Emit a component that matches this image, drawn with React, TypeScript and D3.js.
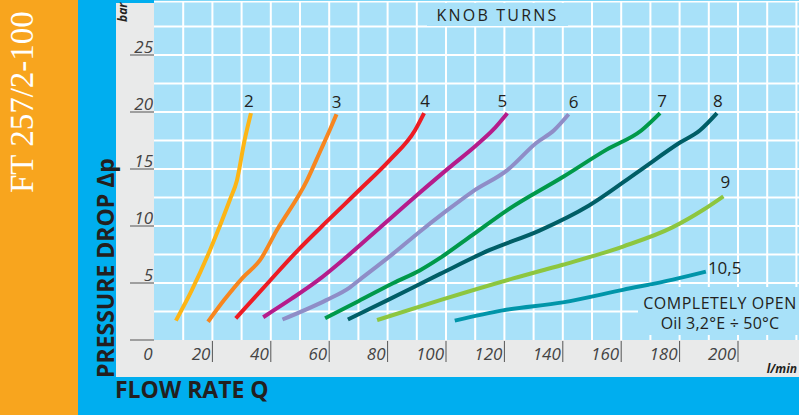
import React from "react";
import * as d3 from "d3";

// ---- Data ----
const seriesNames = ["2", "3", "4", "5", "6", "7", "8", "9", "10,5"];

const q2 = [7.5, 13, 19.2, 26, 28.4, 31, 33.2];
const p2 = [1.7, 4.4, 7.9, 12.3, 14.0, 17.5, 19.9];

const q3 = [18.5, 24, 30.5, 36.3, 42, 52.4, 57, 60.5, 62.5];
const p3 = [1.6, 3.5, 5.5, 7.0, 9.6, 14.0, 16.6, 18.6, 19.8];

const q4 = [28, 39.7, 49, 59.2, 70.5, 80.8, 89.4, 92.5];
const p4 = [1.9, 5.2, 7.8, 10.4, 13.2, 15.8, 18.4, 19.9];

const q5 = [37.4, 47, 56, 66, 78, 90, 101, 110, 116, 121];
const p5 = [2.0, 3.6, 5.2, 7.3, 10.0, 12.7, 15.1, 17.0, 18.4, 19.9];

const q6 = [44, 59, 67, 70.5, 82, 91, 100, 109, 121, 131, 137, 142];
const p6 = [1.8, 3.5, 4.6, 5.3, 7.6, 9.5, 11.3, 13.0, 14.9, 17.3, 18.4, 19.8];

const q7 = [58.6, 70, 82, 91, 98, 109, 121, 140, 155, 167, 173.3];
const p7 = [1.9, 3.4, 5.0, 6.1, 7.2, 9.2, 11.4, 14.3, 16.7, 18.4, 19.9];

const q8 = [66.4, 80, 98, 115, 132, 149, 166, 180, 187, 192.8];
const p8 = [1.8, 3.5, 5.8, 7.9, 9.6, 11.8, 14.8, 17.3, 18.4, 19.9];

const q9 = [76.4, 98, 123, 140, 160.6, 177.7, 188, 195];
const p9 = [1.75, 3.5, 5.4, 6.6, 8.2, 9.9, 11.4, 12.6];

const q105 = [103, 119.5, 140, 160.6, 177.7, 189];
const p105 = [1.7, 2.6, 3.3, 4.4, 5.3, 6.0];

const seriesQ = [q2, q3, q4, q5, q6, q7, q8, q9, q105];
const seriesP = [p2, p3, p4, p5, p6, p7, p8, p9, p105];

const xTicks = [20, 40, 60, 80, 100, 120, 140, 160, 180, 200];
const yTicks = [5, 10, 15, 20, 25];

// ---- Styles ----
const colors = ["#FDB515", "#F7861F", "#ED1C24", "#B51C8C", "#8F8DC7", "#00994A", "#005E66", "#8DC63F", "#0095A9"];
const labelOffsets = [
  { dx: -2, dy: -6, anchor: "middle" },
  { dx: 0, dy: -6, anchor: "middle" },
  { dx: 1, dy: -6, anchor: "middle" },
  { dx: -5, dy: -6, anchor: "middle" },
  { dx: 5, dy: -6, anchor: "middle" },
  { dx: 2, dy: -6, anchor: "middle" },
  { dx: 1, dy: -6, anchor: "middle" },
  { dx: 2, dy: -8, anchor: "middle" },
  { dx: 2, dy: 2, anchor: "start" },
];

const SANS = "'Open Sans', 'Noto Sans', sans-serif";
const ORANGE = "#F8A51E";
const CYAN = "#00AEEF";
const PLOT = "#A8E1F9";
const GRAY = "#E9EAEA";
const TEXT = "#231F20";

export default function App() {
  const W = 799;
  const H = 415;
  const x = d3.scaleLinear().domain([0, 200]).range([154, 738]);
  const y = d3.scaleLinear().domain([0, 25]).range([340, 55]);
  const xMax = x.invert(W);
  const yMax = y.invert(2);

  const line = d3
    .line<[number, number]>()
    .x((d) => x(d[0]))
    .y((d) => y(d[1]))
    .curve(d3.curveMonotoneX);

  const gridX = d3.range(10, xMax, 10);
  const gridY = d3.range(2.5, yMax, 2.5);

  return (
    <svg
      width={W}
      height={H}
      style={{ position: "absolute", left: 0, top: 0, display: "block" }}
    >
      <rect x={0} y={0} width={W} height={H} fill="#ffffff" />
      <rect x={0} y={0} width={78} height={H} fill={ORANGE} />
      <rect x={78} y={0} width={W - 78} height={H} fill={CYAN} />
      <rect x={116} y={3} width={W - 116} height={374} fill={GRAY} />
      <rect x={x(0)} y={y(yMax)} width={W - x(0)} height={y(0) - y(yMax)} fill={PLOT} />

      {/* grid */}
      {gridX.map((v) => (
        <line key={"gx" + v} x1={x(v)} x2={x(v)} y1={y(0)} y2={y(yMax)} stroke="#ffffff" strokeWidth={2} />
      ))}
      {gridY.map((v) => (
        <line key={"gy" + v} x1={x(0)} x2={W} y1={y(v)} y2={y(v)} stroke="#ffffff" strokeWidth={2} />
      ))}
      <line x1={x(0)} x2={W} y1={1.5} y2={1.5} stroke="#ffffff" strokeWidth={2} />

      {/* KNOB TURNS box */}
      <rect x={427} y={3} width={141} height={23} fill={PLOT} />
      <text x={497.5} y={21} textAnchor="middle" fontFamily={SANS} fontSize={16} letterSpacing={2.2} fill={TEXT}>
        KNOB TURNS
      </text>

      {/* COMPLETELY OPEN box */}
      <rect x={638} y={287} width={W - 638} height={48} fill={PLOT} />
      <text x={720} y={309} textAnchor="middle" fontFamily={SANS} fontSize={16} fill={TEXT} letterSpacing={0.5}>
        COMPLETELY OPEN
      </text>
      <text x={720} y={328.5} textAnchor="middle" fontFamily={SANS} fontSize={16} fill={TEXT} letterSpacing={0.2}>
        Oil 3,2°E ÷ 50°C
      </text>

      {/* curves */}
      {seriesQ.map((qs, i) => {
        const pts = qs.map((q, j) => [q, seriesP[i][j]] as [number, number]);
        return (
          <path
            key={"c" + i}
            d={line(pts) || ""}
            fill="none"
            stroke={colors[i]}
            strokeWidth={4}
            strokeLinecap="butt"
            strokeLinejoin="round"
          />
        );
      })}
      {seriesQ.map((qs, i) => {
        const n = qs.length - 1;
        const o = labelOffsets[i];
        return (
          <text
            key={"l" + i}
            x={x(qs[n]) + o.dx}
            y={y(seriesP[i][n]) + o.dy}
            textAnchor={o.anchor as any}
            fontFamily={SANS}
            fontSize={17}
            fill={TEXT}
          >
            {seriesNames[i]}
          </text>
        );
      })}

      {/* y axis ticks */}
      {[0, ...yTicks].map((v) => (
        <line key={"yt" + v} x1={130} x2={x(0)} y1={y(v)} y2={y(v)} stroke="#555" strokeWidth={1} />
      ))}
      {yTicks.map((v) => (
        <text
          key={"yl" + v}
          x={153}
          y={y(v) - 2}
          textAnchor="end"
          fontFamily={SANS}
          fontStyle="italic"
          fontSize={17}
          fill="#444"
        >
          {v}
        </text>
      ))}
      <text x={148} y={360} textAnchor="middle" fontFamily={SANS} fontStyle="italic" fontSize={17} fill="#444">
        0
      </text>

      {/* x axis ticks */}
      {xTicks.map((v) => (
        <g key={"xt" + v}>
          <line x1={x(v)} x2={x(v)} y1={341} y2={362} stroke="#555" strokeWidth={1} />
          <text
            x={x(v) - 2}
            y={360}
            textAnchor="end"
            fontFamily={SANS}
            fontStyle="italic"
            fontSize={17}
            fill="#444"
          >
            {v}
          </text>
        </g>
      ))}

      {/* units */}
      <text x={797} y={373} textAnchor="end" fontFamily={SANS} fontStyle="italic" fontWeight="bold" fontSize={12} fill={TEXT}>
        l/min
      </text>
      <text
        transform="translate(127,22) rotate(-90)"
        fontFamily={SANS}
        fontStyle="italic"
        fontWeight="bold"
        fontSize={12}
        fill={TEXT}
      >
        bar
      </text>

      {/* axis titles */}
      <text x={115} y={398} fontFamily={SANS} fontWeight="bold" fontSize={23} fill={TEXT}>
        FLOW RATE Q
      </text>
      <text
        transform="translate(114,378) rotate(-90)"
        fontFamily={SANS}
        fontWeight="bold"
        fontSize={23}
        fill={TEXT}
      >
        PRESSURE DROP Δp
      </text>

      {/* side title */}
      <text
        transform="translate(33,193) rotate(-90)"
        fontFamily="'Liberation Serif', 'Times New Roman', serif"
        fontSize={33}
        fill="#ffffff"
      >
        FT 257/2-100
      </text>
    </svg>
  );
}
